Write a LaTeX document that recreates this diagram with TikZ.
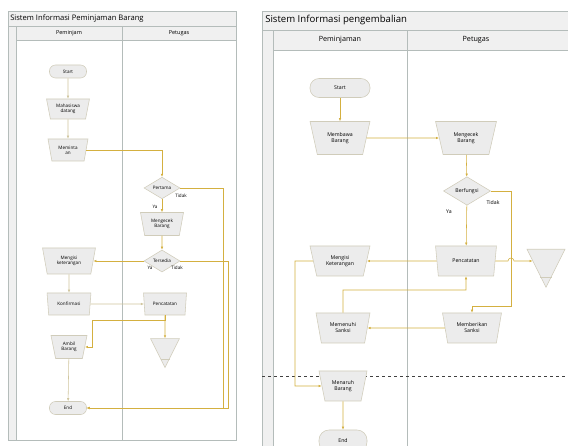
\documentclass[tikz,border=0pt]{standalone}
\usepackage{fontspec}
\setmainfont{Open Sans}
\usetikzlibrary{shapes.geometric,arrows.meta}
\definecolor{framegray}{RGB}{180,188,186}
\definecolor{headfill}{RGB}{240,240,240}
\definecolor{boxfill}{RGB}{236,236,236}
\definecolor{boxline}{RGB}{208,204,186}
\definecolor{flowgold}{RGB}{212,176,64}
\definecolor{flowpale}{RGB}{208,198,158}
\tikzset{
  term/.style={rectangle, rounded corners=6pt, draw=boxline, fill=boxfill, minimum width=37pt, minimum height=13pt, inner sep=0pt},
  trap/.style={trapezium, trapezium stretches=true, shape border rotate=180, trapezium angle=75, draw=boxline, fill=boxfill, align=center, inner sep=1pt},
  decision/.style={diamond, draw=boxline, fill=boxfill, inner sep=0pt},
  offpage/.style={isosceles triangle, isosceles triangle stretches=true, shape border rotate=-90, draw=boxline, fill=boxfill, inner sep=0pt},
  lane/.style={draw=framegray, fill=headfill},
  gold/.style={draw=flowgold, -{Latex[length=3pt,width=2.4pt]}},
  pale/.style={draw=flowpale, -{Latex[length=3pt,width=2.4pt]}},
  tiny/.style={font=\fontsize{4.6}{5.2}\selectfont, inner sep=0pt},
  small/.style={font=\fontsize{5.2}{6}\selectfont, inner sep=0pt}
}
\begin{document}
\begin{tikzpicture}[x=1pt, y=-1pt, line width=0.55pt]
  \useasboundingbox (0,0) rectangle (568,446);

  % peminjaman
  \draw[framegray, fill=white] (8,11) rectangle (236,440);
  \draw[lane] (8,11) rectangle (236,26);
  \draw[lane] (8,26) rectangle (16,440);
  \draw[lane] (16,26) rectangle (122,40);
  \draw[lane] (122,26) rectangle (236,40);
  \draw[framegray] (122,40) -- (122,440);
  \node[anchor=west, font=\fontsize{7.6}{8}\selectfont, inner sep=0pt] (title1) at (10,18.5) {Sistem Informasi Peminjaman Barang};
  \node[font=\fontsize{5.5}{6}\selectfont] (lane1a) at (69,33) {Peminjam};
  \node[font=\fontsize{5.5}{6}\selectfont] (lane1b) at (179,33) {Petugas};

  \node[term, tiny] (start1) at (68,71.5) {Start};
  \node[trap, tiny, minimum width=43pt, minimum height=20pt] (datang) at (68,109) {Mahasiswa\\datang};
  \node[trap, tiny, minimum width=40pt, minimum height=22pt] (minta) at (68,150) {Meminta\\an};
  \node[decision, tiny, minimum width=36pt, minimum height=21pt] (pertama) at (162,188) {Pertama};
  \node[trap, tiny, minimum width=43pt, minimum height=23pt] (cek1) at (162,224) {Mengecek\\Barang};
  \node[decision, tiny, minimum width=36pt, minimum height=22pt] (tersedia) at (162,261) {Tersedia};
  \node[trap, tiny, minimum width=53pt, minimum height=26pt] (isi1) at (69,261) {Mengisi\\keterangan};
  \node[trap, tiny, minimum width=44pt, minimum height=22pt] (konfirm) at (69,304) {Konfirmasi};
  \node[trap, tiny, minimum width=43pt, minimum height=22pt] (catat1) at (165,304) {Pencatatan};
  \node[offpage, minimum size=29pt] (tri1) at (165,347.5) {};
  \draw[boxline] (tri1.apex) ++(-4.5,-9) -- ++(9,0);
  \node[trap, tiny, minimum width=36pt, minimum height=23pt] (ambil) at (69,347) {Ambil\\Barang};
  \node[term, tiny] (end1) at (68,408) {End};

  \node[tiny] (tidak1) at (181,196) {Tidak};
  \node[tiny] (ya1) at (155,207) {Ya};
  \node[tiny] (ya2) at (150,268) {Ya};
  \node[tiny] (tidak2) at (177,268) {Tidak};

  \coordinate (r1) at (223,408);
  \coordinate (r2) at (228,408);
  \coordinate (b1) at (92,320);
  \draw[pale] (start1) -- (datang);
  \draw[pale] (datang) -- (minta);
  \draw[gold] (minta.east) -| (pertama);
  \draw[gold] (pertama) -- (cek1);
  \draw[gold] (pertama.east) -| (r1) -- (end1);
  \draw[gold] (cek1) -- (tersedia);
  \draw[gold] (tersedia) -- (isi1);
  \draw[gold] (tersedia.east) -| (r2) -- (end1);
  \draw[pale] (isi1) -- (konfirm);
  \draw[pale] (konfirm) -- (catat1);
  \draw[gold] (catat1) -- (tri1);
  \draw[gold] (catat1.south) -- (catat1.south |- b1) -- (b1) |- (ambil);
  \draw[pale] (ambil) -- (end1);

  % pengembalian
  \draw[framegray, fill=white] (262,11) rectangle (575,452);
  \draw[lane] (262,11) rectangle (575,30);
  \draw[lane] (262,30) rectangle (273,452);
  \draw[lane] (273,30) rectangle (407,50);
  \draw[lane] (407,30) rectangle (575,50);
  \draw[framegray] (407,50) -- (407,452);
  \node[anchor=west, font=\fontsize{9.6}{10}\selectfont, inner sep=0pt] (title2) at (265,20) {Sistem Informasi pengembalian};
  \node[font=\fontsize{7.2}{8}\selectfont] (lane2a) at (340,40) {Peminjaman};
  \node[font=\fontsize{7.2}{8}\selectfont] (lane2b) at (476,40) {Petugas};
  \draw[dashed, black!75] (262,376) -- (568,376);

  \node[term, small, minimum width=60pt, minimum height=19pt, rounded corners=9pt] (start2) at (340,88) {Start};
  \node[trap, small, trapezium angle=70, minimum width=60pt, minimum height=33pt] (bawa) at (340,138) {Membawa\\Barang};
  \node[trap, small, trapezium angle=70, minimum width=61pt, minimum height=33pt] (cek2) at (466,138) {Mengecek\\Barang};
  \node[decision, small, minimum width=47pt, minimum height=28pt] (fungsi) at (467,191) {Berfungsi};
  \node[trap, small, trapezium angle=70, minimum width=61pt, minimum height=30pt] (catat2) at (466,261) {Pencatatan};
  \node[trap, small, trapezium angle=70, minimum width=60pt, minimum height=30pt] (isi2) at (340,261) {Mengisi\\Keterangan};
  \node[offpage, minimum size=38pt] (tri2) at (546,261) {};
  \draw[boxline] (tri2.apex) ++(-5.6,-11) -- ++(11.2,0);
  \node[trap, small, trapezium angle=72, minimum width=54pt, minimum height=30pt] (penuhi) at (343,328) {Memenuhi\\Sanksi};
  \node[trap, small, trapezium angle=72, minimum width=59pt, minimum height=30pt] (sanksi2) at (472,328) {Memberikan\\Sanksi};
  \node[trap, small, trapezium angle=72, minimum width=48pt, minimum height=30pt] (taruh) at (343,386) {Menaruh\\Barang};
  \node[term, small, minimum width=48pt, minimum height=22pt, rounded corners=10pt] (end2) at (343,441) {End};

  \node[small] (ya3) at (449,212) {Ya};
  \node[small] (tidak3) at (493,203) {Tidak};

  \coordinate (r3) at (511,306);
  \coordinate (hop) at (511,261);
  \coordinate (l1) at (295,386);
  \coordinate (l2) at (343,290);
  \draw[gold] (start2) -- (bawa);
  \draw[gold] (bawa) -- (cek2);
  \draw[gold] (cek2) -- (fungsi);
  \draw[gold] (fungsi) -- (catat2);
  \draw[gold] (fungsi.east) -| (r3) -| (sanksi2);
  \draw[gold] (catat2.east) -- ([xshift=-3pt]hop) arc[start angle=180, end angle=0, radius=3pt] -- (tri2);
  \draw[gold] (catat2) -- (isi2);
  \draw[gold] (isi2.west) -| (l1) -- (taruh);
  \draw[gold] (sanksi2) -- (penuhi);
  \draw[gold] (penuhi.north) -- (l2) -| (catat2);
  \draw[gold] (taruh) -- (end2);
\end{tikzpicture}
\end{document}
